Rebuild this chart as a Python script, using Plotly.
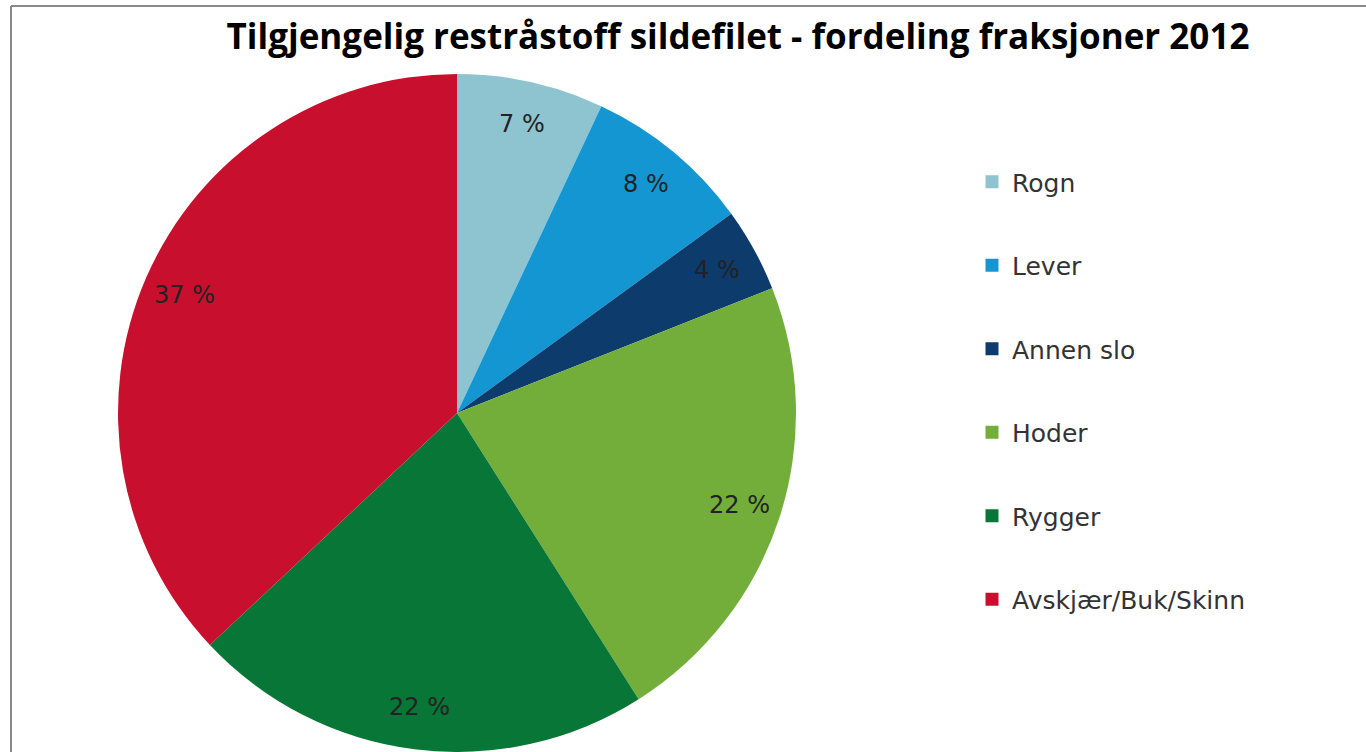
import math
import plotly.graph_objects as go

categories = ["Rogn", "Lever", "Annen slo", "Hoder", "Rygger", "Avskjær/Buk/Skinn"]
values = [7, 8, 4, 22, 22, 37]
colors = ["#8EC4D0", "#1496D3", "#0C3B6C", "#74AE3A", "#077636", "#C8102E"]
title_text = "Tilgjengelig restråstoff sildefilet - fordeling fraksjoner 2012"

W, H = 1366, 752
cx_px, R_px = 457, 339
dom_top_px = 74
cy_px = H - R_px

fig = go.Figure()
fig.add_trace(go.Pie(
    labels=categories, values=values, sort=False, direction="clockwise", rotation=0,
    marker=dict(colors=colors, line=dict(width=0)),
    textinfo="none", hoverinfo="label+percent", showlegend=False,
    domain=dict(x=[(cx_px - R_px) / W, (cx_px + R_px) / W], y=[0, 1 - dom_top_px / H]),
))

for name, c in zip(categories, colors):
    fig.add_trace(go.Scatter(
        x=[None], y=[None], mode="markers", name=name, legendgroup=name,
        marker=dict(symbol="square", size=13, color=c), showlegend=True,
    ))

# data labels placed along each slice's mid-angle
total = sum(values)
cum = 0
annotations = []
for v in values:
    mid = (cum + v / 2) / total * 2 * math.pi
    cum += v
    r = 0.875 * R_px
    px = cx_px + r * math.sin(mid)
    py = cy_px - r * math.cos(mid)
    annotations.append(dict(
        x=px / W, y=1 - py / H, xref="paper", yref="paper", showarrow=False,
        text=f"{round(v / total * 100)} %", font=dict(family="DejaVu Sans", size=24, color="#222222"),
        xanchor="center", yanchor="middle",
    ))

fig.update_layout(
    width=W, height=H, autosize=False,
    margin=dict(l=0, r=0, t=0, b=0),
    paper_bgcolor="white", plot_bgcolor="white",
    title=dict(text=f"<b>{title_text}</b>", x=738 / W, xanchor="center", y=1 - 37 / H, yanchor="middle",
               font=dict(family="Open Sans", size=35, color="#000000")),
    xaxis=dict(visible=False), yaxis=dict(visible=False),
    legend=dict(x=972 / W, xanchor="left", y=1 - 159 / H, yanchor="top",
                font=dict(family="DejaVu Sans", size=25, color="#333333"),
                tracegroupgap=48, bgcolor="rgba(0,0,0,0)"),
    annotations=annotations,
    shapes=[
        dict(type="line", xref="paper", yref="paper", x0=11 / W, x1=1.05, y0=1 - 6 / H, y1=1 - 6 / H,
             line=dict(color="#8a8a8a", width=2)),
        dict(type="line", xref="paper", yref="paper", x0=11 / W, x1=11 / W, y0=-0.05, y1=1 - 6 / H,
             line=dict(color="#8a8a8a", width=2)),
    ],
)

fig.write_html("out.html", config={"displayModeBar": False},
               post_script="document.body.style.margin='0';document.body.style.overflow='hidden';")
